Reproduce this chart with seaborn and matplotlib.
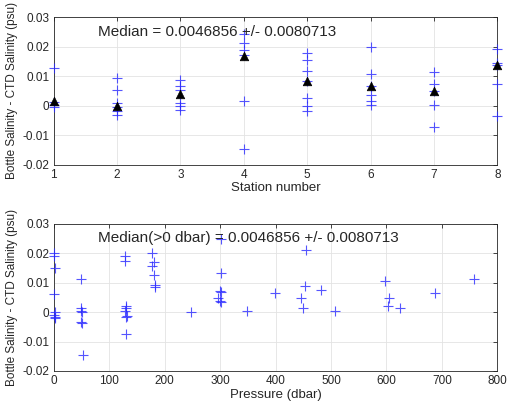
import matplotlib
matplotlib.use("Agg")
import matplotlib.pyplot as plt
import seaborn as sns
import pandas as pd

# salinity differences per station (bottle - CTD, psu)
station_nums = [1, 2, 3, 4, 5, 6, 7, 8]
station_diffs = [
    [0.0127, 0.0012, 0.0003, -0.0005],
    [0.0093, 0.0054, 0.0009, -0.0006, -0.0019, -0.0032],
    [0.0087, 0.0066, 0.0054, 0.0009, 0.0000, -0.0014],
    [0.0241, 0.0211, 0.0189, 0.0170, 0.0017, -0.0145],
    [0.0177, 0.0155, 0.0116, 0.0082, 0.0025, 0.0000, -0.0019],
    [0.0198, 0.0106, 0.0066, 0.0036, 0.0017, 0.0002],
    [0.0113, 0.0075, 0.0050, 0.0002, -0.0073],
    [0.0192, 0.0145, 0.0138, 0.0073, -0.0034],
]
station_median = [0.0015, -0.0002, 0.0040, 0.0167, 0.0082, 0.0066, 0.0050, 0.0138]

# same differences against pressure
pressure = [1, 1, 2, 1, 2, 1, 2, 3,
            50, 49, 50, 51, 49, 51, 52,
            129, 128, 130, 131, 128, 131, 132, 130,
            178, 180, 177, 181, 182, 183,
            247, 302, 301, 300, 302, 297, 299, 302,
            349, 399, 455, 453, 446, 449, 482, 507,
            598, 605, 603, 624, 688, 758]
pressure_diff = [0.0200, 0.0190, 0.0149, 0.0061, 0.0000, -0.0008, -0.0017, -0.0020,
                 0.0114, 0.0015, 0.0003, -0.0001, -0.0034, -0.0036, -0.0145,
                 0.0192, 0.0175, 0.0022, 0.0014, 0.0005, -0.0015, -0.0013, -0.0074,
                 0.0200, 0.0171, 0.0158, 0.0128, 0.0092, 0.0086,
                 0.0000, 0.0248, 0.0134, 0.0072, 0.0070, 0.0049, 0.0038, 0.0033,
                 0.0004, 0.0065, 0.0211, 0.0088, 0.0048, 0.0015, 0.0074, 0.0005,
                 0.0106, 0.0048, 0.0021, 0.0015, 0.0065, 0.0114]

y_ticks = [-0.02, -0.01, 0, 0.01, 0.02, 0.03]
y_ticklabels = ["-0.02", "-0.01", "0", "0.01", "0.02", "0.03"]
p_ticks = [0, 100, 200, 300, 400, 500, 600, 700, 800]

median_text = "Median = 0.0046856 +/- 0.0080713"
median_text_p = "Median(>0 dbar) = 0.0046856 +/- 0.0080713"

sns.set_style("whitegrid")
plt.rcParams["font.family"] = ["Liberation Sans", "DejaVu Sans"]

st_df = pd.DataFrame({
    "station": [s for s, d in zip(station_nums, station_diffs) for _ in d],
    "diff": [v for d in station_diffs for v in d],
})
med_df = pd.DataFrame({"station": station_nums, "median": station_median})
p_df = pd.DataFrame({"pressure": pressure, "diff": pressure_diff})

fig = plt.figure(figsize=(5.07, 4.05), dpi=100)
ax1 = fig.add_axes([0.106, 0.593, 0.875, 0.365])
ax2 = fig.add_axes([0.106, 0.084, 0.875, 0.363])

sns.scatterplot(data=st_df, x="station", y="diff", marker="+", color="#2a2aff",
                s=45, linewidth=0.8, alpha=0.8, ax=ax1, zorder=3, clip_on=False)
sns.scatterplot(data=med_df, x="station", y="median", marker="^", color="black",
                s=38, edgecolor="black", ax=ax1, zorder=4, clip_on=False)
sns.scatterplot(data=p_df, x="pressure", y="diff", marker="+", color="#2a2aff",
                s=45, linewidth=0.8, alpha=0.8, ax=ax2, zorder=3, clip_on=False)

ax1.set_xlim(1, 8)
ax1.set_xticks(station_nums)
ax1.set_xlabel("Station number", fontsize=9.5, labelpad=1)
ax1.text(1.7, 0.025, median_text, fontsize=11, va="center")

ax2.set_xlim(0, 800)
ax2.set_xticks(p_ticks)
ax2.set_xlabel("Pressure (dbar)", fontsize=9.5, labelpad=1)
ax2.text(80, 0.0252, median_text_p, fontsize=11, va="center")

for ax in (ax1, ax2):
    ax.set_ylim(-0.02, 0.03)
    ax.set_yticks(y_ticks)
    ax.set_yticklabels(y_ticklabels)
    ax.set_ylabel("Bottle Salinity - CTD Salinity (psu)", fontsize=8.5, labelpad=3)
    ax.grid(True, color="#e3e3e3", linewidth=0.6)
    ax.tick_params(direction="in", length=3, width=0.6, labelsize=8.5, colors="#262626",
                   top=True, right=True, pad=3)
    for sp in ax.spines.values():
        sp.set_color("#262626")
        sp.set_linewidth(0.6)
        sp.set_visible(True)

fig.savefig("out.png", dpi=100)
